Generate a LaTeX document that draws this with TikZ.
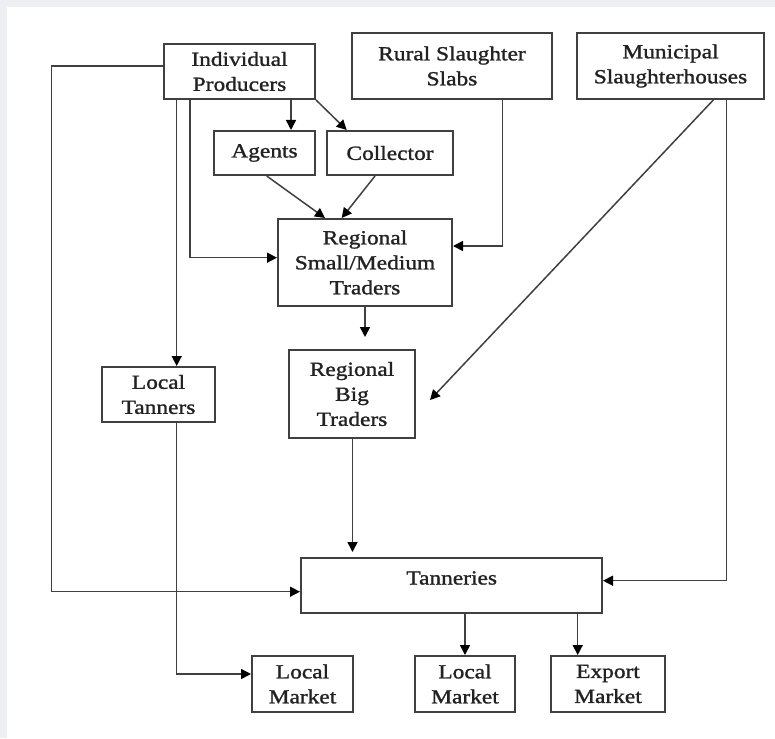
\documentclass[tikz,border=0pt]{standalone}
\usepackage{fontspec}
\setmainfont{Liberation Serif}[FakeStretch=1.17,FakeBold=1.3]
\usetikzlibrary{arrows.meta}
\definecolor{bg}{HTML}{EDEFF2}
\definecolor{ln}{HTML}{404040}
\definecolor{tx}{HTML}{222222}
\begin{document}
\begin{tikzpicture}[x=1pt,y=-1pt,
  box/.style={draw=ln, line width=2pt, inner sep=0pt, align=center,
    font=\fontsize{20}{25}\selectfont, text=tx},
  txt/.style={inner sep=0pt, align=center, font=\fontsize{20}{25}\selectfont, text=tx},
  conn/.style={draw=ln, line width=1.5pt, -{Triangle[length=10pt,width=10pt,fill=black,color=black]}}]
\useasboundingbox (0,0) rectangle (775,738);
\fill[bg] (0,0) rectangle (775,738);
\fill[white] (7,7.5) rectangle (775,738);
% boxes
\node[box, minimum width=151pt, minimum height=55pt] (ip) at (239.5,71.5) {Individual\\Producers};
\node[box, minimum width=200pt, minimum height=66pt] (rss) at (452,66) {Rural Slaughter\\Slabs};
\node[box, minimum width=187pt, minimum height=66pt] (ms) at (670.5,66) {Municipal\\Slaughterhouses};
\node[box, minimum width=101pt, minimum height=44pt] (ag) at (264.5,153) {Agents};
\node[box, minimum width=126pt, minimum height=44pt] (col) at (390,153) {Collector};
\node[box, minimum width=174pt, minimum height=87pt] (rsm) at (365,262.5) {Regional\\Small/Medium\\Traders};
\node[box, minimum width=113pt, minimum height=55pt] (lt) at (158.5,394.5) {Local\\Tanners};
\node[box, minimum width=126pt, minimum height=88pt] (rbt) at (352,394) {Regional\\Big\\Traders};
\node[box, minimum width=301pt, minimum height=55pt] (tan) at (451.5,585.5) {};
\node[txt] (tant) at (451.7,578) {Tanneries};
\node[box, minimum width=101pt, minimum height=56pt] (lm1) at (302.5,684) {Local\\Market};
\node[box, minimum width=100pt, minimum height=56pt] (lm2) at (465,684) {Local\\Market};
\node[box, minimum width=114pt, minimum height=56pt] (em) at (608,684) {Export\\Market};
% connectors
\draw[conn] (ip.west |- 0,66) -- (51.7,66) |- (tan.west |- 0,591.7);
\draw[conn] (176.7,0 |- ip.south) -- (176.7,0 |- lt.north);
\draw[conn] (190,0 |- ip.south) |- (rsm.west |- 0,257.7);
\draw[conn] (291,0 |- ip.south) -- (291,0 |- ag.north);
\draw[conn] (ip.south east) -- (346.7,0 |- col.north);
\draw[conn] (266.7,0 |- ag.south) -- (325,0 |- rsm.north);
\draw[conn] (375,0 |- col.south) -- (341.7,0 |- rsm.north);
\draw[conn] (502.7,0 |- rss.south) |- (rsm.east |- 0,246);
\coordinate (mtip) at (430,400);
\draw[conn] (713.3,0 |- ms.south) -- (mtip);
\draw[conn] (726.7,0 |- ms.south) |- (tan.east |- 0,580.7);
\draw[conn, shorten >=12pt] (365,0 |- rsm.south) -- (365,0 |- rbt.north);
\draw[conn, shorten >=5pt] (352.5,0 |- rbt.south) -- (352.5,0 |- tan.north);
\draw[conn] (176.7,0 |- lt.south) |- (lm1.west |- 0,674);
\draw[conn] (465,0 |- tan.south) -- (lm2.north);
\draw[conn] (577.7,0 |- tan.south) -- (577.7,0 |- em.north);
\end{tikzpicture}
\end{document}
